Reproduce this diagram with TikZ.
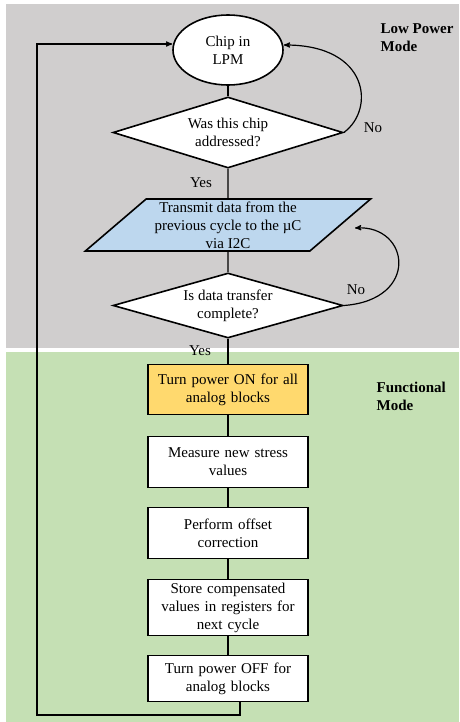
\documentclass[tikz,border=0pt]{standalone}
\usepackage{fontspec}
\setmainfont{Liberation Serif}
\usetikzlibrary{arrows,shapes.geometric,positioning}
\definecolor{lpmgray}{RGB}{208,206,206}
\definecolor{fmgreen}{RGB}{197,224,180}
\definecolor{txblue}{RGB}{189,215,238}
\definecolor{onyellow}{RGB}{255,217,110}

\begin{document}
\begin{tikzpicture}[>=stealth',x=1pt,y=-1pt,line width=1.2pt,
font=\fontsize{15}{18}\selectfont]
\tikzstyle{block}=[rectangle,draw,line width=1.6pt,fill=white,text width=154pt,align=center,minimum width=160pt,minimum height=51pt,inner sep=0pt]
\tikzstyle{decision}=[diamond,draw,line width=1.6pt,fill=white,align=center,minimum width=230pt,aspect=3.5,inner sep=-8pt]
\tikzstyle{terminal}=[ellipse,draw,line width=1.6pt,fill=white,align=center,minimum width=110pt,minimum height=70pt,inner sep=0pt]
\tikzstyle{io}=[trapezium,trapezium left angle=43,trapezium right angle=137,trapezium stretches=true,draw,line width=1.6pt,fill=txblue,align=center,minimum width=286pt,minimum height=52pt,inner xsep=-6pt,inner ysep=0pt]
\tikzstyle{lbl}=[inner sep=0pt]
\tikzstyle{mode}=[font=\fontsize{15}{18}\selectfont\bfseries,align=left,anchor=north west,inner sep=0pt]

\useasboundingbox (0,0) rectangle (459,722);
\fill[lpmgray] (6,4) rectangle (459,348);
\fill[fmgreen] (6,352) rectangle (459,722);

\node[mode] (lpmlabel) at (380,23) {Low Power\\Mode};
\node[mode] (fmlabel) at (376,381) {Functional\\Mode};

\node[terminal]                     (lpm)   at (228,50)                             {Chip in\\LPM};
\node[decision,minimum height=71pt] (addr)  [below of=lpm,node distance=82.5pt]     {Was this chip\\addressed?};
\node[io]                           (tx)    [below of=addr,node distance=92.5pt]    {Transmit data from the\\previous cycle to the µC\\via I2C};
\node[decision,minimum height=65pt] (done)  [below of=tx,node distance=80.5pt]      {Is data transfer\\complete?};
\node[block,fill=onyellow,minimum height=50pt] (pon) [below of=done,node distance=84pt] {Turn power ON for all\\analog blocks};
\node[block]                        (meas)  [below of=pon,node distance=72.5pt]     {Measure new stress\\values};
\node[block]                        (offs)  [below of=meas,node distance=71pt]      {Perform offset\\correction};
\node[block,minimum height=56pt]    (store) [below of=offs,node distance=74.5pt]    {Store compensated\\values in registers for\\next cycle};
\node[block,minimum height=46pt]    (poff)  [below of=store,node distance=71pt]     {Turn power OFF for\\analog blocks};

\node[lbl] (no1)  at (373,128) {No};
\node[lbl] (yes1) at (201,183) {Yes};
\node[lbl] (no2)  at (356,290) {No};
\node[lbl] (yes2) at (200,351) {Yes};

\coordinate (txin) at (355,228);
\coordinate (ret) at (37,715);

\draw (lpm) -- (addr);
\draw (addr) -- (tx);
\draw (tx) -- (done);
\draw (done) -- (pon);
\draw (pon) -- (meas);
\draw (meas) -- (offs);
\draw (offs) -- (store);
\draw (store) -- (poff);

\draw[->] (addr.east) .. controls (375,110) and (370,45) .. ([yshift=5pt]lpm.east);
\draw[->] (done.east) .. controls (420,300) and (410,225) .. (txin);
\draw[->] ([xshift=12pt]poff.south) |- (ret) |- ([yshift=6pt]lpm.west);
\end{tikzpicture}
\end{document}
